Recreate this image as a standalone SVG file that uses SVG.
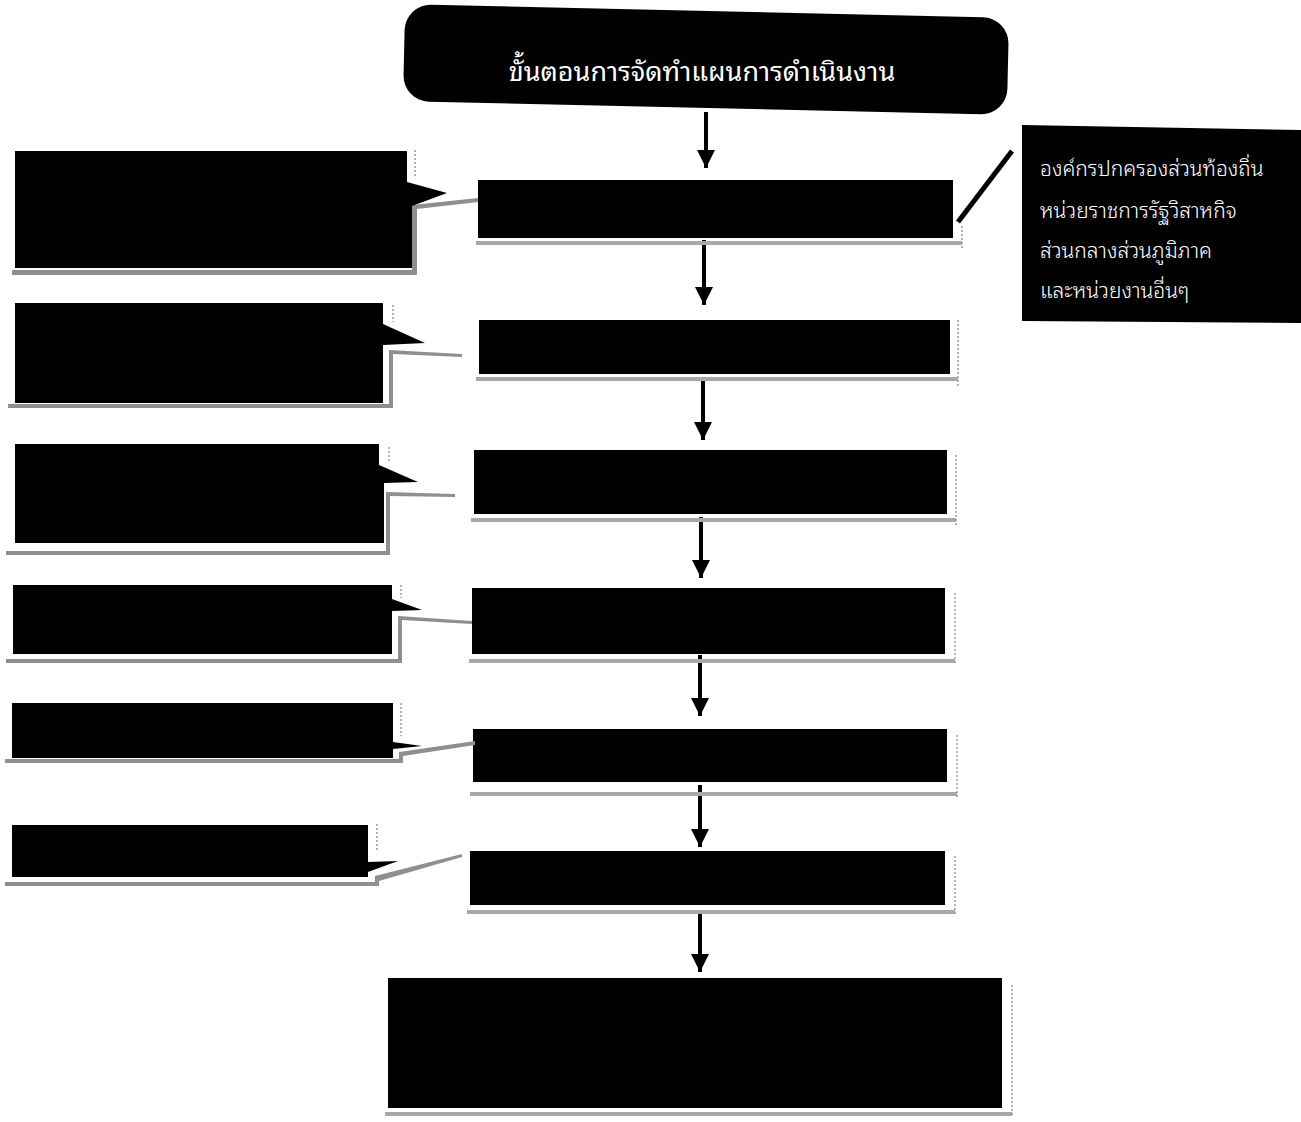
<svg xmlns="http://www.w3.org/2000/svg" width="1301" height="1122" viewBox="0 0 1301 1122">
<style>
.blk{fill:#000}
.shd{fill:#8f8f8f}
.bshd{fill:#a8a8a8}
.dot{stroke:#9a9a9a;stroke-width:1.5;stroke-dasharray:2 2;fill:none}
.arrow{stroke:#000;stroke-width:4;fill:none;marker-end:url(#ah)}
.title{font-family:"Noto Sans Thai Looped","Noto Sans Thai","Noto Sans","DejaVu Sans",sans-serif;font-size:27px;fill:#fff}
.rt{font-family:"Noto Sans Thai Looped","Noto Sans Thai","Noto Sans","DejaVu Sans",sans-serif;font-size:21px;fill:#fff;font-weight:300}
</style>
<defs>
<marker id="ah" markerWidth="18" markerHeight="18" refX="18" refY="9" orient="auto" markerUnits="userSpaceOnUse" viewBox="0 0 18 18">
<path d="M0 0 L18 9 L0 18 Z" fill="#000"/>
</marker>
</defs>
<rect width="1301" height="1122" fill="#fff"/>

<g id="title">
<rect x="404" y="11" width="604" height="97" rx="26" class="blk" transform="rotate(1.3 706 60)"/>
<text x="702" y="81" text-anchor="middle" class="title">ขั้นตอนการจัดทำแผนการดำเนินงาน</text>
</g>

<g id="connectors">
<line x1="706" y1="112" x2="706" y2="168" class="arrow"/>
<line x1="704" y1="240" x2="704" y2="305" class="arrow"/>
<line x1="703" y1="378" x2="703" y2="440" class="arrow"/>
<line x1="701" y1="517" x2="701" y2="578" class="arrow"/>
<line x1="700" y1="655" x2="700" y2="716" class="arrow"/>
<line x1="700" y1="785" x2="700" y2="847" class="arrow"/>
<line x1="700" y1="910" x2="700" y2="972" class="arrow"/>
<line x1="958" y1="222" x2="1012" y2="151" stroke="#000" stroke-width="5"/>
</g>

<g id="step1">
<rect x="476" y="241" width="486" height="4" class="bshd"/>
<line x1="962" y1="226" x2="962" y2="248" class="dot"/>
<rect x="478" y="180" width="475" height="58" class="blk"/>
</g>
<g id="step2">
<rect x="476" y="377" width="482" height="4" class="bshd"/>
<line x1="958" y1="320" x2="958" y2="386" class="dot"/>
<rect x="479" y="320" width="471" height="54" class="blk"/>
</g>
<g id="step3">
<rect x="471" y="518" width="485" height="4" class="bshd"/>
<line x1="956" y1="455" x2="956" y2="525" class="dot"/>
<rect x="474" y="450" width="473" height="64" class="blk"/>
</g>
<g id="step4">
<rect x="469" y="659" width="486" height="4" class="bshd"/>
<line x1="955" y1="593" x2="955" y2="665" class="dot"/>
<rect x="472" y="588" width="473" height="66" class="blk"/>
</g>
<g id="step5">
<rect x="470" y="792" width="487" height="4" class="bshd"/>
<line x1="957" y1="735" x2="957" y2="797" class="dot"/>
<rect x="473" y="729" width="474" height="53" class="blk"/>
</g>
<g id="step6">
<rect x="467" y="910" width="488" height="4" class="bshd"/>
<line x1="955" y1="856" x2="955" y2="915" class="dot"/>
<rect x="470" y="851" width="475" height="54" class="blk"/>
</g>
<g id="step7">
<rect x="385" y="1112" width="627" height="4" class="bshd"/>
<line x1="1012" y1="985" x2="1012" y2="1117" class="dot"/>
<rect x="388" y="978" width="614" height="130" class="blk"/>
</g>

<g id="note1">
<path class="shd" d="M12 270 H412 V205 L478 198 L478 202 L417 209 V275 H12 Z"/>
<line x1="415" y1="150" x2="415" y2="178" class="dot"/>
<path class="blk" d="M15 151 H407 V182 L447 193 L412 206 V268 H15 Z"/>
</g>
<g id="note2">
<path class="shd" d="M8 404 H389 V350 L462 354 L462 357 L393 354 V408 H8 Z"/>
<line x1="393" y1="305" x2="393" y2="322" class="dot"/>
<path class="blk" d="M15 303 H383 V324 L425 343 L383 345 V403 H15 Z"/>
</g>
<g id="note3">
<path class="shd" d="M6 551 H386 V492 L455 494 L455 497 L390 496 V555 H6 Z"/>
<line x1="389" y1="447" x2="389" y2="463" class="dot"/>
<path class="blk" d="M15 444 H379 V465 L418 482 L384 483 V543 H15 Z"/>
</g>
<g id="note4">
<path class="shd" d="M6 659 H398 V616 L472 621 L472 624 L402 620 V663 H6 Z"/>
<line x1="401" y1="585" x2="401" y2="598" class="dot"/>
<path class="blk" d="M13 585 H392 V599 L422 610 L392 611 V654 H13 Z"/>
</g>
<g id="note5">
<path class="shd" d="M5 759 H399 V752 L475 741 L475 745 L403 756 V763 H5 Z"/>
<line x1="401" y1="703" x2="401" y2="736" class="dot"/>
<path class="blk" d="M12 703 H393 V742 L422 746 L393 749 V758 H12 Z"/>
</g>
<g id="note6">
<path class="shd" d="M5 882 H375 V876 L462 854 L462 857 L379 881 V886 H5 Z"/>
<line x1="377" y1="824" x2="377" y2="850" class="dot"/>
<path class="blk" d="M12 825 H368 V862 L398 861 L368 872 V877 H12 Z"/>
</g>

<g id="agencies">
<path class="blk" d="M1022 125 L1301 130 L1301 323 L1022 321 Z"/>
<text class="rt" x="1040" y="176">องค์กรปกครองส่วนท้องถิ่น</text>
<text class="rt" x="1040" y="218">หน่วยราชการรัฐวิสาหกิจ</text>
<text class="rt" x="1040" y="258">ส่วนกลางส่วนภูมิภาค</text>
<text class="rt" x="1040" y="298">และหน่วยงานอื่นๆ</text>
</g>
</svg>
